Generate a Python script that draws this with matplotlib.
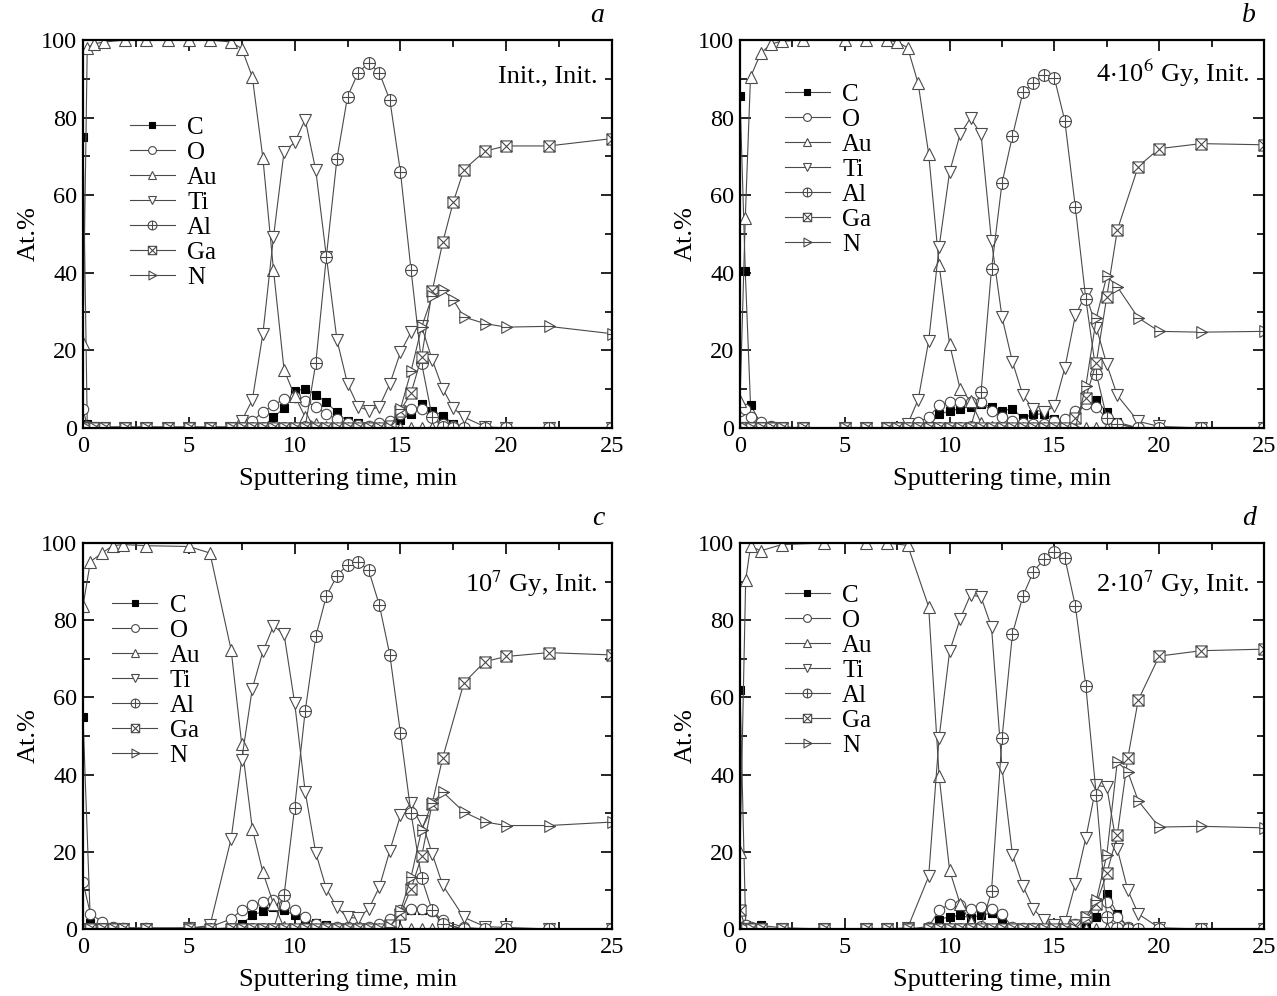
import numpy as np
import matplotlib
matplotlib.use("Agg")
import matplotlib.pyplot as plt
from matplotlib.path import Path
from matplotlib.ticker import MultipleLocator

plt.rcParams["font.family"] = ["Liberation Serif", "DejaVu Serif"]
plt.rcParams["mathtext.fontset"] = "stix"

# ---- data (at.% vs sputtering time, read from the profiles) ----
elements = ["C", "O", "Au", "Ti", "Al", "Ga", "N"]

# panel a: Init., Init.
t_a = [0, 0.2, 0.5, 1, 2, 3, 4, 5, 6, 7, 7.5, 8, 8.5, 9, 9.5, 10, 10.5, 11, 11.5, 12,
       12.5, 13, 13.5, 14, 14.5, 15, 15.5, 16, 16.5, 17, 17.5, 18, 19, 20, 22, 25]
C_a = [75, 1, 0.5, 0.3, 0.3, 0.3, 0.3, 0.3, 0.3, 0.3, 0.3, 0.3, 0.3, 2.8, 5.1, 9.5, 10.1, 8.6,
       6.6, 4.0, 1.7, 1.2, 0.6, 0.3, 0.5, 2.0, 3.6, 6.2, 4.5, 3.2, 1.0, 0, 0, 0, 0, 0]
O_a = [5, 0.5, 0, 0, 0, 0, 0, 0, 0, 0, 1.2, 1.7, 4.2, 5.8, 7.5, 8.1, 6.9, 5.5, 3.6, 2.3,
       1.2, 0.8, 0.5, 1.2, 1.9, 3.6, 4.9, 4.9, 2.8, 1.0, 0.6, 0, 0, 0, 0, 0]
Au_a = [22, 98, 99, 99.5, 100, 100, 100, 100, 100, 99.5, 97.8, 90.5, 69.6, 40.8, 15.0, 8.3, 2.8,
        1.0, 0.3, 0, 0, 0, 0, 0, 0, 0, 0, 0, 0, 0, 0, 0, 0, 0, 0, 0]
Ti_a = [0, 0, 0, 0, 0, 0, 0, 0, 0, 0, 1.9, 7.2, 24.3, 49.2, 71.2, 73.6, 79.5, 66.4, 44.2, 22.7,
        11.4, 5.5, 4.5, 5.5, 11.4, 19.5, 24.7, 26.2, 17.6, 10.1, 5.1, 2.8, 0.3, 0, 0, 0]
Al_a = [0, 0, 0, 0, 0, 0, 0, 0, 0, 0, 0, 0, 0, 0, 0, 0, 0.3, 16.7, 44.2, 69.4,
        85.4, 91.6, 94.1, 91.6, 84.5, 66.0, 40.8, 16.7, 2.8, 0.3, 0, 0, 0, 0, 0, 0]
Ga_a = [0, 0, 0, 0, 0, 0, 0, 0, 0, 0, 0, 0, 0, 0, 0, 0, 0, 0, 0, 0,
        0, 0, 0, 0, 0.5, 4.5, 9.0, 18.3, 35.3, 47.9, 58.3, 66.6, 71.4, 72.7, 72.7, 74.6]
N_a = [0, 0, 0, 0, 0, 0, 0, 0, 0, 0, 0, 0, 0, 0, 0, 0, 0, 0, 0, 0,
       0, 0, 0, 0, 0, 4.9, 14.6, 26.0, 33.9, 35.6, 33.0, 28.6, 26.9, 26.0, 26.2, 24.3]

# panel b: 4*10^6 Gy, Init.
t_b = [0, 0.25, 0.5, 1, 1.5, 2, 3, 5, 6, 7, 7.5, 8, 8.5, 9, 9.5, 10, 10.5, 11, 11.5, 12,
       12.5, 13, 13.5, 14, 14.5, 15, 15.5, 16, 16.5, 17, 17.5, 18, 19, 20, 22, 25]
C_b = [85.5, 40.5, 6, 1, 0.5, 0.3, 0, 0, 0, 0, 0, 0, 0, 0.5, 3.6, 4.3, 5.0, 5.5, 6.2, 5.5,
       4.5, 4.9, 2.5, 3.6, 3.6, 2.3, 1.0, 2.8, 6.5, 7.2, 4.0, 1.5, 0, 0, 0, 0]
O_b = [4.5, 5, 2.8, 1.5, 0.5, 0, 0, 0, 0, 0, 0, 0.5, 1.5, 2.8, 5.8, 6.8, 6.8, 6.8, 6.8, 4.3,
       2.8, 1.7, 1.2, 1.0, 1.0, 1.7, 2.3, 4.3, 6.2, 5.5, 2.3, 1.0, 0, 0, 0, 0]
Au_b = [7, 54, 90.5, 96.7, 99, 99.7, 100, 100, 100, 100, 99.5, 98, 88.8, 70.7, 42.0, 21.6, 10.1,
        7.0, 1.3, 0.3, 0, 0, 0, 0, 0, 0, 0, 0, 0, 0, 0, 0, 0, 0, 0, 0]
Ti_b = [0, 0, 0, 0, 0, 0, 0, 0, 0, 0, 0, 1.0, 7.3, 22.4, 46.7, 66.0, 75.7, 79.9, 75.7, 48.1,
        28.6, 17.0, 8.4, 4.9, 4.0, 5.6, 15.5, 29.0, 34.5, 25.9, 16.4, 8.4, 1.7, 0.4, 0, 0]
Al_b = [0, 0, 0, 0, 0, 0, 0, 0, 0, 0, 0, 0, 0, 0, 0, 0, 0, 0.3, 9.2, 41.0,
        63.1, 75.3, 86.6, 89.0, 90.9, 90.2, 79.1, 56.9, 33.2, 14.0, 2.6, 1.0, 0, 0, 0, 0]
Ga_b = [0, 0, 0, 0, 0, 0, 0, 0, 0, 0, 0, 0, 0, 0, 0, 0, 0, 0, 0, 0,
        0, 0, 0, 0, 0, 0, 0, 2.6, 7.8, 16.8, 33.8, 51.0, 67.4, 72.0, 73.3, 73.0]
N_b = [0, 0, 0, 0, 0, 0, 0, 0, 0, 0, 0, 0, 0, 0, 0, 0, 0, 0, 0, 0,
       0, 0, 0, 0, 0, 0, 0, 0, 10.8, 28.3, 39.2, 36.4, 28.4, 24.9, 24.7, 24.9]

# panel c: 10^7 Gy, Init.
t_c = [0, 0.35, 0.9, 1.4, 1.9, 3, 5, 6, 7, 7.5, 8, 8.5, 9, 9.5, 10, 10.5, 11, 11.5, 12,
       12.5, 13, 13.5, 14, 14.5, 15, 15.5, 16, 16.5, 17, 18, 19, 20, 22, 25]
C_c = [55, 1.5, 0.5, 0.3, 0.3, 0, 0, 0, 0.3, 1.3, 3.5, 4.6, 5.6, 4.9, 3.5, 2.6, 1.5, 1.0, 0.5,
       0.3, 0.3, 0.3, 0.3, 0.5, 3.9, 4.9, 4.9, 4.6, 1.3, 0, 0, 0, 0, 0]
O_c = [12.1, 3.9, 1.9, 0.6, 0.3, 0.3, 0.3, 0.5, 2.6, 4.9, 6.1, 6.9, 7.4, 6.1, 4.9, 3.0, 1.3, 0.6,
       0.6, 0.6, 0.6, 0.6, 1.3, 2.6, 4.8, 5.2, 5.2, 4.6, 2.2, 0.4, 0, 0, 0, 0]
Au_c = [83.7, 95.2, 97.4, 99.3, 99.6, 99.3, 99.1, 97.4, 72.3, 47.9, 26.0, 14.7, 6.5, 0.4, 0, 0,
        0, 0, 0, 0, 0, 0, 0, 0, 0, 0, 0, 0, 0, 0, 0, 0, 0, 0]
Ti_c = [0, 0, 0, 0, 0, 0, 0.2, 0.9, 23.4, 43.9, 62.3, 71.9, 78.5, 76.4, 58.6, 35.5, 19.7, 10.4,
        5.6, 3.0, 2.8, 5.2, 10.8, 20.3, 29.4, 32.6, 28.1, 19.5, 11.3, 3.0, 0.6, 0.4, 0, 0]
Al_c = [0, 0, 0, 0, 0, 0, 0, 0, 0, 0, 0, 0, 0, 8.7, 31.4, 56.5, 75.8, 86.3, 91.5,
        94.4, 95.2, 92.9, 84.0, 71.0, 50.8, 30.0, 13.2, 4.8, 1.3, 0, 0, 0, 0, 0]
Ga_c = [0, 0, 0, 0, 0, 0, 0, 0, 0, 0, 0, 0, 0, 0, 0, 0, 0, 0, 0,
        0, 0, 0, 0, 0.9, 3.9, 10.4, 18.8, 32.5, 44.4, 63.8, 69.3, 70.6, 71.6, 71.0]
N_c = [0, 0, 0, 0, 0, 0, 0, 0, 0, 0, 0, 0, 0, 0, 0, 0, 0, 0, 0,
       0, 0, 0, 0, 0.5, 4.6, 13.4, 25.7, 32.6, 35.5, 30.3, 27.7, 26.8, 26.8, 27.7]

# panel d: 2*10^7 Gy, Init.
t_d = [0, 0.27, 0.5, 1, 2, 4, 6, 7, 8, 9, 9.5, 10, 10.5, 11, 11.5, 12, 12.5, 13, 13.5,
       14, 14.5, 15, 15.5, 16, 16.5, 17, 17.5, 18, 18.5, 19, 20, 22, 25]
C_d = [62, 0.9, 0.5, 0.9, 0.3, 0, 0, 0, 0, 0, 2.4, 3.2, 3.5, 2.9, 3.6, 4.1, 1.7, 0.3, 0.3,
       0.3, 0.3, 0.3, 0.3, 0.5, 0.9, 3.2, 9.1, 3.9, 0.5, 0, 0, 0, 0]
O_d = [3, 1, 0.5, 0.3, 0, 0, 0, 0, 0, 0.6, 4.8, 6.5, 6.1, 5.2, 5.6, 5.2, 3.9, 0.4, 0.2,
       0.2, 0.2, 0.2, 0.2, 1.3, 3.2, 6.9, 6.9, 3.2, 0.6, 0, 0, 0, 0]
Au_d = [20, 90.4, 99.1, 98, 99.6, 100, 100, 100, 99.4, 83.5, 39.6, 15.2, 6.5, 1.7, 0.3, 0, 0,
        0, 0, 0, 0, 0, 0, 0, 0, 0, 0, 0, 0, 0, 0, 0, 0]
Ti_d = [0, 0, 0, 0, 0, 0, 0, 0, 0.3, 13.6, 49.6, 71.9, 80.3, 86.6, 86.0, 78.2, 41.8, 19.2, 11.1,
        5.2, 2.3, 1.1, 1.7, 11.7, 23.6, 37.2, 36.8, 20.8, 10.1, 3.9, 0.3, 0, 0]
Al_d = [0, 0, 0, 0, 0, 0, 0, 0, 0, 0, 0, 0, 0, 0, 0.5, 9.8, 49.4, 76.5, 86.3,
        92.6, 95.8, 97.6, 96.1, 83.7, 62.9, 34.6, 3.0, 0.3, 0, 0, 0, 0, 0]
Ga_d = [5, 0, 0, 0, 0, 0, 0, 0, 0, 0, 0, 0, 0, 0, 0, 0, 0, 0, 0,
        0, 0, 0, 0, 0.9, 3.0, 6.5, 14.4, 24.3, 44.2, 59.3, 70.7, 72.1, 72.5]
N_d = [0, 0, 0, 0, 0, 0, 0, 0, 0, 0, 0, 0, 0, 0, 0, 0, 0, 0, 0,
       0, 0, 0, 0, 0, 3.0, 7.4, 19.2, 43.3, 40.8, 33.2, 26.4, 26.6, 26.2]

panels = [
    ("a", "Init., Init.", t_a, [C_a, O_a, Au_a, Ti_a, Al_a, Ga_a, N_a]),
    ("b", r"4$\cdot$10$^{6}$ Gy, Init.", t_b, [C_b, O_b, Au_b, Ti_b, Al_b, Ga_b, N_b]),
    ("c", r"10$^{7}$ Gy, Init.", t_c, [C_c, O_c, Au_c, Ti_c, Al_c, Ga_c, N_c]),
    ("d", r"2$\cdot$10$^{7}$ Gy, Init.", t_d, [C_d, O_d, Au_d, Ti_d, Al_d, Ga_d, N_d]),
]

# ---- custom marker shapes ----
M, L = Path.MOVETO, Path.LINETO
plus = Path([[-1, 0], [1, 0], [0, -1], [0, 1]], [M, L, M, L])
al_mark = Path.make_compound_path(Path.unit_circle(), plus)
box = Path([[-1, -1], [1, -1], [1, 1], [-1, 1], [-1, -1]], [M, L, L, L, Path.CLOSEPOLY])
cross = Path([[-1, -1], [1, 1], [-1, 1], [1, -1]], [M, L, M, L])
ga_mark = Path.make_compound_path(box, cross)
tri = Path([[-0.8, -1], [1, 0], [-0.8, 1], [-0.8, -1]], [M, L, L, Path.CLOSEPOLY])
hline = Path([[-0.8, 0], [1, 0]], [M, L])
n_mark = Path.make_compound_path(tri, hline)

gray = "#4a4a4a"
styles = {
    "C": dict(marker="s", ms=6, mfc="black", mec="black"),
    "O": dict(marker="o", ms=7.5, mfc="white", mec=gray),
    "Au": dict(marker="^", ms=8, mfc="white", mec=gray),
    "Ti": dict(marker="v", ms=8, mfc="white", mec=gray),
    "Al": dict(marker=al_mark, ms=8.5, mfc="white", mec=gray),
    "Ga": dict(marker=ga_mark, ms=8, mfc="white", mec=gray),
    "N": dict(marker=n_mark, ms=8.5, mfc="white", mec=gray),
}

fig = plt.figure(figsize=(12.77, 9.96), dpi=100)
rects = [(0.065, 0.5703, 0.4143, 0.3895), (0.5795, 0.5703, 0.4103, 0.3895),
         (0.065, 0.0673, 0.4143, 0.3875), (0.5795, 0.0673, 0.4103, 0.3875)]
leg_pos = [(0.088, 0.803), (0.085, 0.888), (0.055, 0.867), (0.085, 0.893)]
txt_y = [0.905, 0.915, 0.895, 0.895]

for (letter, note, t, series), rect, lp, ty in zip(panels, rects, leg_pos, txt_y):
    ax = fig.add_axes(rect)
    for name, vals in zip(elements, series):
        ax.plot(t, vals, color=gray, lw=0.8, mew=0.8, label=name, **styles[name])
    ax.set_xlim(0, 25)
    ax.set_ylim(0, 100)
    ax.xaxis.set_major_locator(MultipleLocator(5))
    ax.xaxis.set_minor_locator(MultipleLocator(2.5))
    ax.yaxis.set_major_locator(MultipleLocator(20))
    ax.yaxis.set_minor_locator(MultipleLocator(10))
    ax.tick_params(which="both", direction="in", top=True, right=True, labelsize=17.5,
                   width=1.2, pad=4)
    ax.tick_params(axis="x", which="both", pad=6)
    ax.tick_params(which="major", length=8)
    ax.tick_params(which="minor", length=5)
    for sp in ax.spines.values():
        sp.set_linewidth(1.6)
    ax.set_xlabel("Sputtering time, min", fontsize=19, labelpad=8)
    ax.set_ylabel("At.%", fontsize=19, labelpad=1)
    ax.text(0.972, ty, note, transform=ax.transAxes, ha="right", va="center", fontsize=19)
    fig.text(rect[0] + rect[2] - 0.006, rect[1] + rect[3] + 0.012, letter,
             style="italic", fontsize=20, ha="right", va="bottom")
    ax.legend(loc="upper left", bbox_to_anchor=lp, frameon=False, fontsize=18,
              numpoints=1, handlelength=1.8, handletextpad=0.5, labelspacing=0.1,
              borderpad=0, borderaxespad=0, markerscale=0.75)

fig.savefig("out.png", dpi=100)
